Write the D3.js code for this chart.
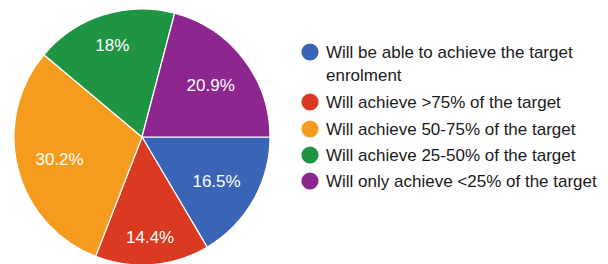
<!DOCTYPE html>
<html>
<head>
<meta charset="utf-8">
<script src="https://cdn.jsdelivr.net/npm/d3@7"></script>
<style>
  body { margin: 0; background: #fff; }
  svg text { font-family: "Liberation Sans", Arial, sans-serif; }
</style>
</head>
<body>
<div class="chart"></div>
<script>
// answers, in drawing order (clockwise from 3 o'clock)
const categories = [
  "Will be able to achieve the target enrolment",
  "Will achieve >75% of the target",
  "Will achieve 50-75% of the target",
  "Will achieve 25-50% of the target",
  "Will only achieve <25% of the target",
];
const values = [16.5, 14.4, 30.2, 18, 20.9];
const labels = ["16.5%", "14.4%", "30.2%", "18%", "20.9%"];
const colors = ["#3a65b6", "#db3a22", "#f59c1e", "#1f9543", "#8e2690"];
// the first legend entry wraps onto two lines
const legendLines = [
  ["Will be able to achieve the target", "enrolment"],
  ["Will achieve >75% of the target"],
  ["Will achieve 50-75% of the target"],
  ["Will achieve 25-50% of the target"],
  ["Will only achieve <25% of the target"],
];

const width = 608;
const height = 264;
const cx = 142, cy = 137, radius = 128;

const svg = d3
  .select(".chart")
  .append("svg")
  .attr("width", width)
  .attr("height", height);

const color = d3.scaleOrdinal().domain(d3.range(values.length)).range(colors);

const pie = d3
  .pie()
  .sort(null)
  .startAngle(Math.PI / 2)
  .endAngle(Math.PI / 2 + 2 * Math.PI);

const arc = d3.arc().innerRadius(0).outerRadius(radius);
const arcs = pie(values);

const g = svg.append("g").attr("transform", `translate(${cx},${cy})`);

g.selectAll("path")
  .data(arcs)
  .join("path")
  .attr("d", arc)
  .attr("fill", (d, i) => color(i))
  .attr("stroke", "white")
  .attr("stroke-width", 1.2)
  .attr("stroke-linejoin", "round");

// labels: pushed out along the mid angle until the far corner of the text
// box sits a fixed distance inside the rim
const labelText = g
  .selectAll("text.lbl")
  .data(arcs)
  .join("text")
  .attr("class", "lbl")
  .attr("fill", "white")
  .attr("font-size", 17)
  .attr("text-anchor", "middle")
  .attr("dominant-baseline", "central")
  .text((d, i) => labels[i]);

const limit = radius - 18;
labelText.each(function (d) {
  const bb = this.getBBox();
  const hw = bb.width / 2, hh = 6.2;
  const a = (d.startAngle + d.endAngle) / 2;
  const ux = Math.sin(a), uy = -Math.cos(a);
  let lo = 0, hi = radius;
  for (let k = 0; k < 40; k++) {
    const t = (lo + hi) / 2;
    const x = t * ux, y = t * uy;
    const far = Math.hypot(Math.abs(x) + hw, Math.abs(y) + hh);
    if (far > limit) hi = t; else lo = t;
  }
  d3.select(this).attr("x", lo * ux).attr("y", lo * uy + 1.5);
});

// legend
const legend = svg.append("g").attr("transform", "translate(310,0)");
const rowY = [52, 102, 129, 155, 181];
const lineH = 23;

legendLines.forEach((lines, i) => {
  const row = legend.append("g").attr("transform", `translate(0,${rowY[i]})`);
  row.append("circle").attr("r", 8.6).attr("fill", color(i));
  const t = row
    .append("text")
    .attr("x", 16)
    .attr("font-size", 17)
    .attr("fill", "#1a1a1a")
    .attr("dominant-baseline", "central");
  lines.forEach((s, j) => {
    t.append("tspan").attr("x", 16).attr("dy", j === 0 ? 0 : lineH).text(s);
  });
});
</script>
</body>
</html>
